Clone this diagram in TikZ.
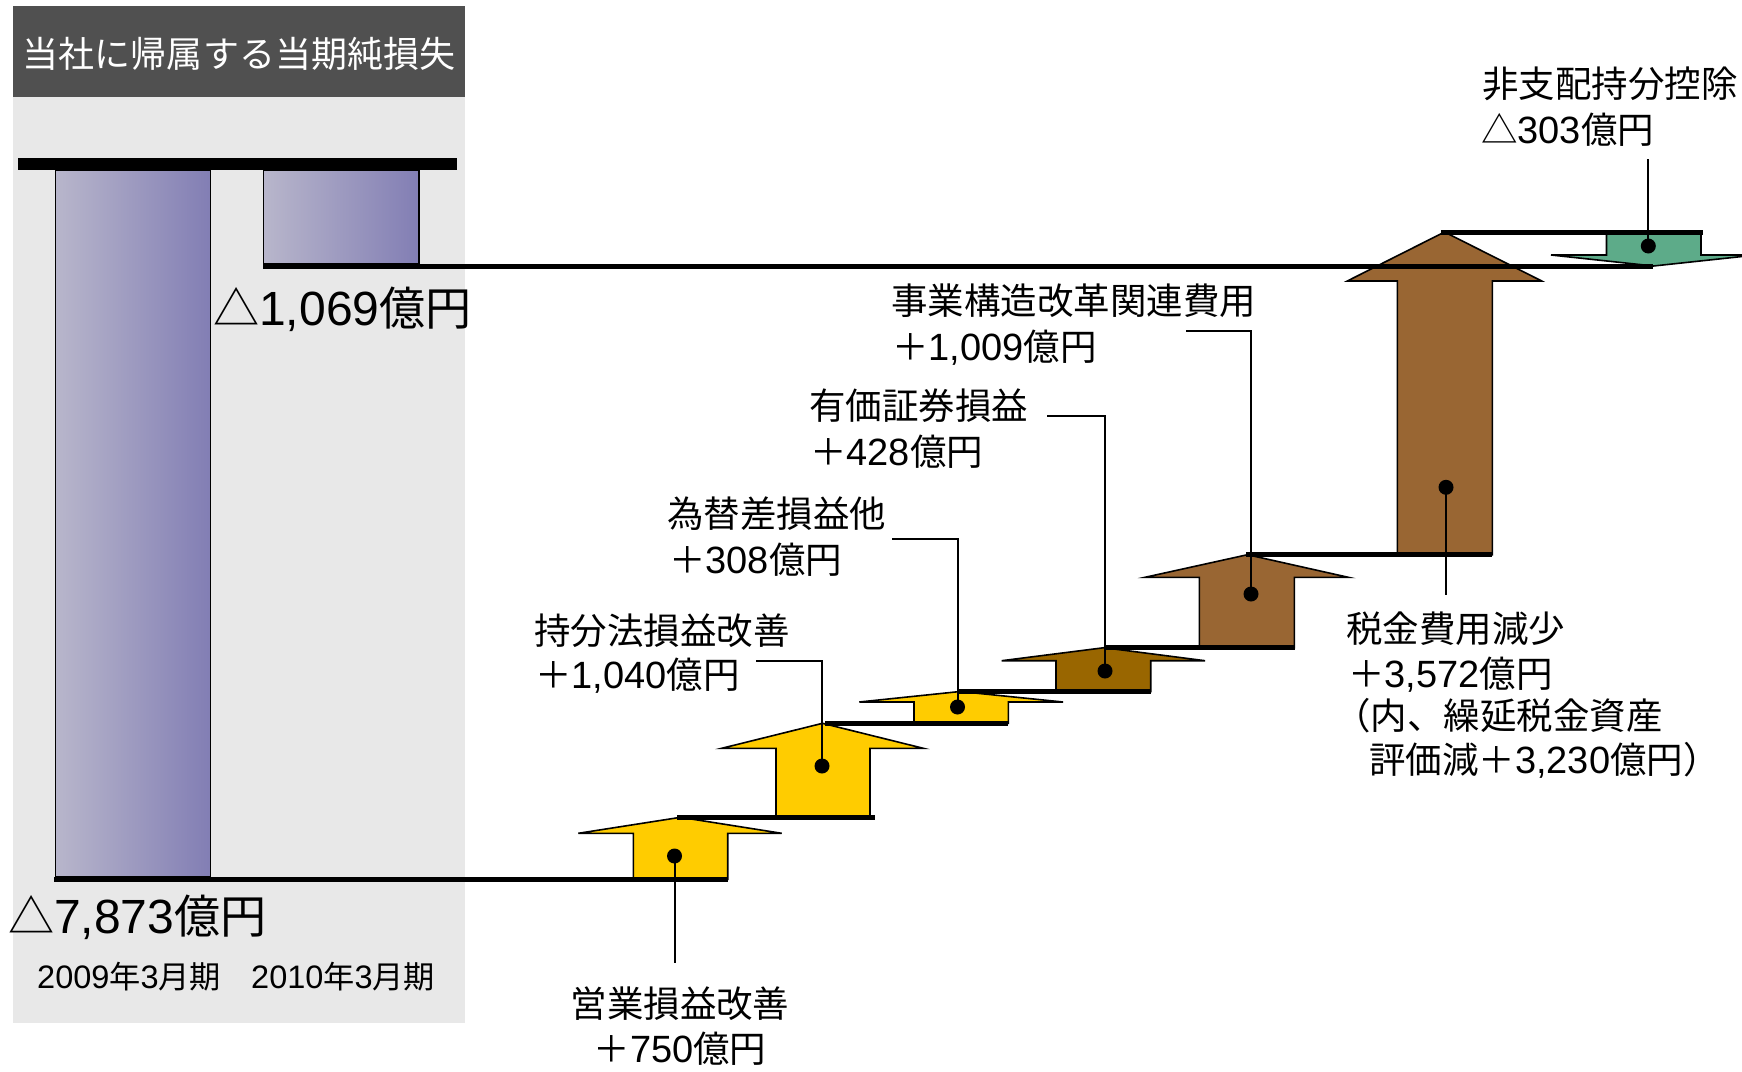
\documentclass[tikz,border=0pt]{standalone}
\usepackage{fontspec}
\setmainfont{Liberation Sans}
\newfontfamily\cjk[Scale=0.96]{Noto Sans CJK JP}
\newcommand\J[1]{{\cjk #1}}
\definecolor{panelgray}{RGB}{232,232,232}
\definecolor{headgray}{RGB}{80,80,80}
\definecolor{barL}{RGB}{184,182,203}
\definecolor{barR}{RGB}{130,126,180}
\definecolor{yel}{RGB}{255,204,0}
\definecolor{gold}{RGB}{153,102,0}
\definecolor{brn}{RGB}{153,102,51}
\definecolor{grn}{RGB}{93,171,137}
\begin{document}
\begin{tikzpicture}[x=1pt,y=-1pt,
  arr/.style={draw=black,line width=1.6pt,line join=miter},
  stair/.style={draw=black,line width=5pt},
  bar/.style={draw=black,line width=1.5pt,left color=barL,right color=barR},
  dotn/.style={circle,fill=black,inner sep=0pt,minimum size=15pt},
  lead/.style={draw=black,line width=2pt},
  lbl/.style={inner sep=0pt,anchor=base west,font=\fontsize{38}{45}\selectfont},
  lblc/.style={inner sep=0pt,anchor=base,font=\fontsize{38}{45}\selectfont},
  big/.style={inner sep=0pt,anchor=base west,font=\fontsize{48}{56}\selectfont},
  yr/.style={inner sep=0pt,anchor=base west,font=\fontsize{32.5}{38}\selectfont},
  ttl/.style={inner sep=0pt,anchor=base,text=white,font=\fontsize{37.5}{44}\selectfont}]
\useasboundingbox (0,0) rectangle (1742,1071);

% left panel
\fill[panelgray] (13,6) rectangle (465,1022.5);
\fill[headgray] (13,6) rectangle (465,96.7);
\node[ttl] (title) at (239,67) {\J{当社に帰属する当期純損失}};

% bars
\shade[bar] (55.5,170) rectangle (210.5,877);
\shade[bar] (263.3,170) rectangle (419,264);
\fill[black] (18,158.3) rectangle (457,170);

% arrows
\draw[arr,fill=yel] (633.3,879.3) -- (633.3,833.3) -- (578.3,833.3) -- (680.5,817.3) -- (781.7,833.3) -- (727.7,833.3) -- (727.7,879.3) -- cycle;
\draw[arr,fill=yel] (776,817.3) -- (776,748.3) -- (721.7,748.3) -- (822.5,723.3) -- (923.3,748.3) -- (870,748.3) -- (870,817.3) -- cycle;
\draw[arr,fill=yel] (914,723.3) -- (914,702) -- (859.3,702) -- (960,691.5) -- (1063,702) -- (1008.3,702) -- (1008.3,723.3) -- cycle;
\draw[arr,fill=gold] (1056,691.5) -- (1056,660.7) -- (1001.7,660.7) -- (1104,647.7) -- (1205,660.7) -- (1150.7,660.7) -- (1150.7,691.5) -- cycle;
\draw[arr,fill=brn] (1199.3,647.7) -- (1199.3,577.3) -- (1145,577.3) -- (1247.5,554.7) -- (1348.3,577.3) -- (1294.3,577.3) -- (1294.3,647.7) -- cycle;
\draw[arr,fill=brn] (1397.3,554.7) -- (1397.3,281) -- (1347.3,281) -- (1444.5,232) -- (1541.7,281) -- (1492.3,281) -- (1492.3,554.7) -- cycle;
\draw[arr,fill=grn] (1606.5,232) -- (1606.5,255) -- (1551,255) -- (1653.5,266) -- (1756,255) -- (1701,255) -- (1701,232) -- cycle;

% stair lines
\draw[stair] (54,879.3) -- (728,879.3);
\draw[stair] (677,817.3) -- (875,817.3);
\draw[stair] (825,723.3) -- (1008.3,723.3);
\draw[stair] (958,691.5) -- (1150.7,691.5);
\draw[stair] (1105,647.7) -- (1295,647.7);
\draw[stair] (1246,554.7) -- (1492.3,554.7);
\draw[stair] (1441,232) -- (1702.7,232);
\draw[stair] (263,266) -- (1653,266);

% dots
\node[dotn] (d1) at (674.5,856) {};
\node[dotn] (d2) at (822,766) {};
\node[dotn] (d3) at (957.5,707) {};
\node[dotn] (d4) at (1105,671) {};
\node[dotn] (d5) at (1251,594) {};
\node[dotn] (d6) at (1446,487.3) {};
\node[dotn] (d7) at (1648.3,246) {};

% leader ends
\coordinate (e1) at (674.5,963);
\coordinate (e2) at (756,661);
\coordinate (e3) at (891.7,539);
\coordinate (e4) at (1046.7,415.7);
\coordinate (e5) at (1186,331);
\coordinate (e6) at (1446,595);
\coordinate (e7) at (1648.3,159);

\draw[lead] (d1.center) -- (e1);
\draw[lead] (d2.center) |- (e2);
\draw[lead] (d3.center) |- (e3);
\draw[lead] (d4.center) |- (e4);
\draw[lead] (d5.center) |- (e5);
\draw[lead] (d6.center) -- (e6);
\draw[lead] (d7.center) -- (e7);

% big values
\node[big] (v1) at (213,325) {\J{△}1,069\J{億円}};
\node[big] (v0) at (8,933) {\J{△}7,873\J{億円}};
\node[yr] (y0) at (37,988) {2009\J{年}3\J{月期}};
\node[yr] (y1) at (251,988) {2010\J{年}3\J{月期}};

% labels
\node[lblc] (op1) at (680,1017) {\J{営業損益改善}};
\node[lblc] (op2) at (680,1062) {\J{＋}750\J{億円}};
\node[lbl] (eq1) at (534,644) {\J{持分法損益改善}};
\node[lbl] (eq2) at (535,688) {\J{＋}1,040\J{億円}};
\node[lbl] (fx1) at (667,527) {\J{為替差損益他}};
\node[lbl] (fx2) at (669,573) {\J{＋}308\J{億円}};
\node[lbl] (sc1) at (809,419) {\J{有価証券損益}};
\node[lbl] (sc2) at (810,465) {\J{＋}428\J{億円}};
\node[lbl] (rs1) at (891,314) {\J{事業構造改革関連費用}};
\node[lbl] (rs2) at (892,360) {\J{＋}1,009\J{億円}};
\node[lbl] (tx1) at (1346,642) {\J{税金費用減少}};
\node[lbl] (tx2) at (1348,687) {\J{＋}3,572\J{億円}};
\node[lbl] (tx3) at (1334,729) {\J{（内、繰延税金資産}};
\node[lbl] (tx4) at (1369,773) {\J{評価減＋}3,230\J{億円）}};
\node[lbl] (nc1) at (1482,97) {\J{非支配持分控除}};
\node[lbl] (nc2) at (1481,143) {\J{△}303\J{億円}};
\end{tikzpicture}
\end{document}
